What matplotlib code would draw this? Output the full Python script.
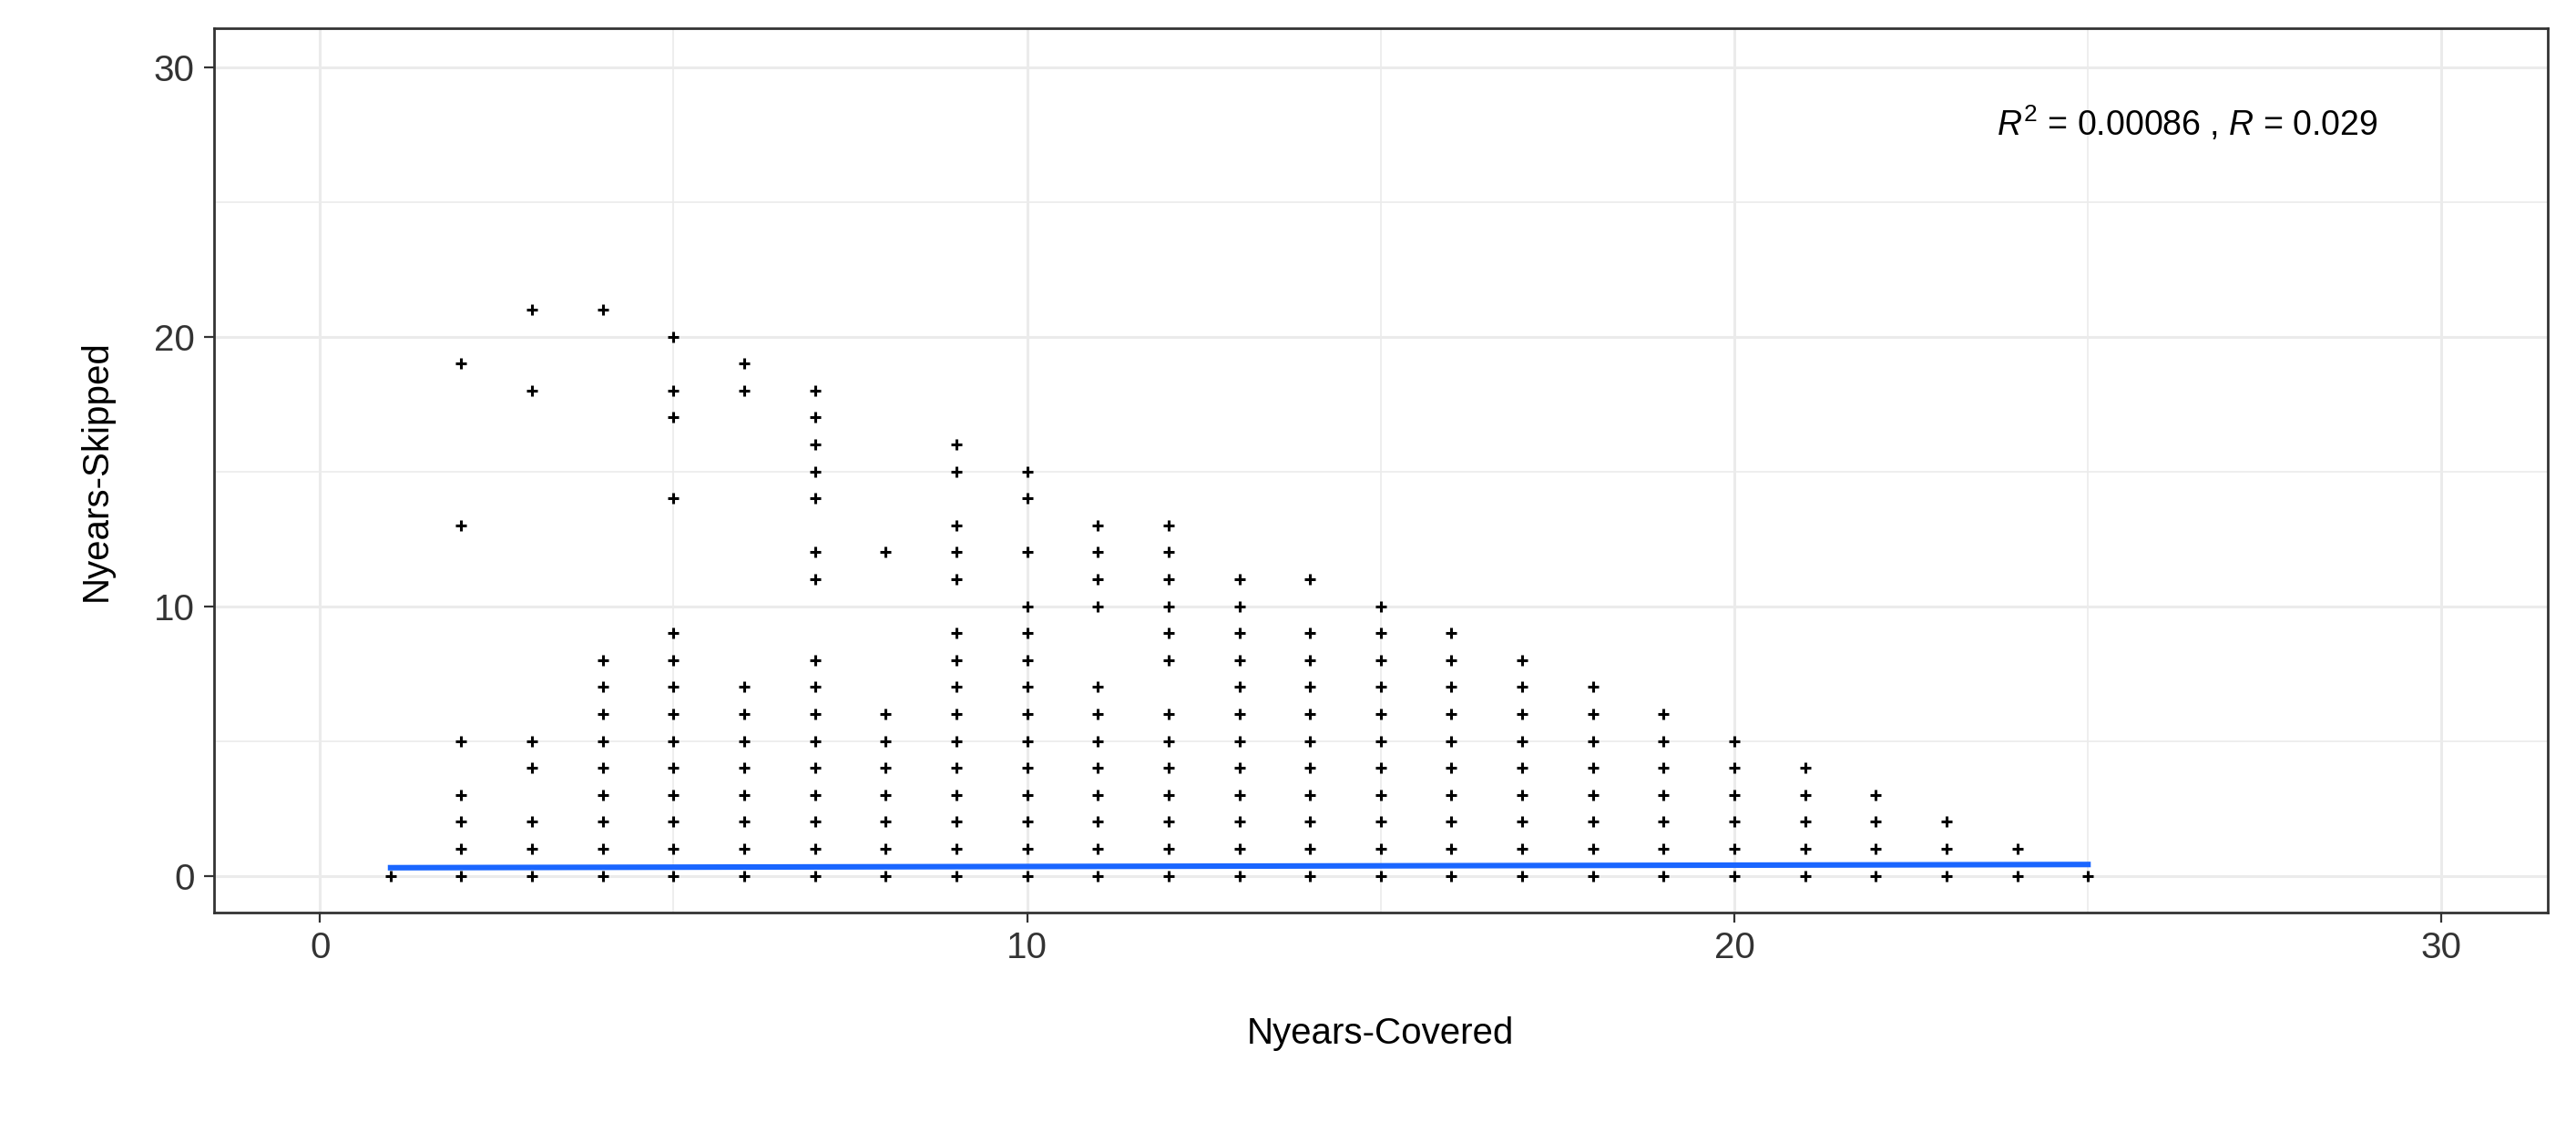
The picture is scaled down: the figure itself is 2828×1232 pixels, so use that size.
import matplotlib

matplotlib.use("Agg")
import matplotlib.pyplot as plt
import numpy as np

plt.rcParams["font.family"] = ["Liberation Sans", "DejaVu Sans"]
plt.rcParams["mathtext.fontset"] = "custom"
plt.rcParams["mathtext.it"] = "Liberation Sans:italic"
plt.rcParams["mathtext.rm"] = "Liberation Sans"

# Nyears-Skipped values observed at each Nyears-Covered value
covered = list(range(1, 26))
skipped = [
    [0],
    [0, 1, 2, 3, 5, 13, 19],
    [0, 1, 2, 4, 5, 18, 21],
    list(range(0, 9)) + [21],
    list(range(0, 10)) + [14, 17, 18, 20],
    list(range(0, 8)) + [18, 19],
    list(range(0, 9)) + [11, 12, 14, 15, 16, 17, 18],
    list(range(0, 7)) + [12],
    list(range(0, 10)) + [11, 12, 13, 15, 16],
    list(range(0, 11)) + [12, 14, 15],
    list(range(0, 8)) + [10, 11, 12, 13],
    list(range(0, 7)) + [8, 9, 10, 11, 12, 13],
    list(range(0, 12)),
    list(range(0, 10)) + [11],
    list(range(0, 11)),
    list(range(0, 10)),
    list(range(0, 9)),
    list(range(0, 8)),
    list(range(0, 7)),
    list(range(0, 6)),
    list(range(0, 5)),
    list(range(0, 4)),
    list(range(0, 3)),
    [0, 1],
    [0],
]

# fitted regression line
fit_x = [1, 25]
fit_y = [0.30, 0.42]

xs = np.concatenate([[c] * len(s) for c, s in zip(covered, skipped)])
ys = np.concatenate(skipped)

fig = plt.figure(figsize=(14.14, 6.16), dpi=200)
ax = fig.add_axes([0.083, 0.187, 0.906, 0.788])

ax.scatter(xs, ys, marker="+", s=16, c="black", linewidths=1.1, zorder=3)
ax.plot(fit_x, fit_y, color="#1a66ff", lw=2.2, zorder=4)

ax.set_xlim(-1.5, 31.5)
ax.set_ylim(-1.35, 31.45)
ax.set_xticks([0, 10, 20, 30])
ax.set_yticks([0, 10, 20, 30])
ax.set_xticks([5, 15, 25], minor=True)
ax.set_yticks([5, 15, 25], minor=True)
ax.grid(True, which="major", color="#ebebeb", lw=1.1, zorder=0)
ax.grid(True, which="minor", color="#ebebeb", lw=0.6, zorder=0)
ax.tick_params(which="minor", length=0)
ax.tick_params(which="major", length=4, width=0.8, color="#333333",
               labelsize=14.5, labelcolor="#333333")
for sp in ax.spines.values():
    sp.set_color("#333333")
    sp.set_linewidth(1.0)
ax.set_axisbelow(True)

ax.set_xlabel("Nyears-Covered", fontsize=14.5, labelpad=20)
ax.set_ylabel("Nyears-Skipped", fontsize=14.5, labelpad=16)

ax.text(26.4, 27.9, "$R^2$ = 0.00086 , $R$ = 0.029", fontsize=13.5,
        ha="center", va="center")

fig.savefig("out.png", dpi=200)
